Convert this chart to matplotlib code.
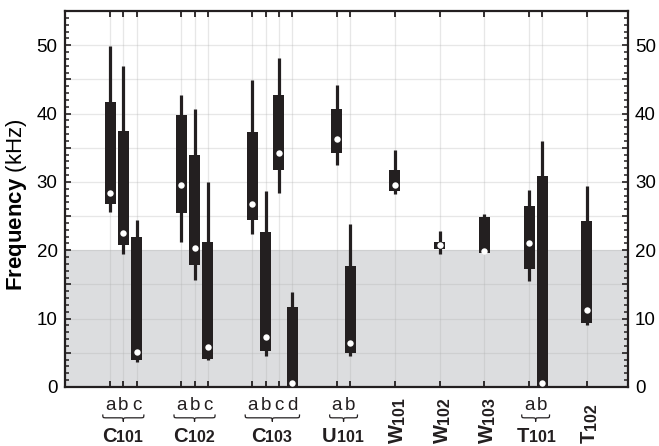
import numpy as np
import matplotlib
matplotlib.use('Agg')
import matplotlib.pyplot as plt
from matplotlib.path import Path
from matplotlib.patches import PathPatch
from matplotlib.ticker import MultipleLocator, FuncFormatter
from matplotlib import transforms

plt.rcParams['font.family'] = ['Liberation Sans', 'DejaVu Sans']
plt.rcParams['mathtext.fontset'] = 'custom'
plt.rcParams['mathtext.rm'] = 'Liberation Sans'
plt.rcParams['mathtext.bf'] = 'Liberation Sans:bold'

# Groups and their sub-series
groups = ['C101', 'C102', 'C103', 'U101', 'W101', 'W102', 'W103', 'T101', 'T102']
sub_letters = [['a', 'b', 'c'], ['a', 'b', 'c'], ['a', 'b', 'c', 'd'], ['a', 'b'],
               [], [], [], ['a', 'b'], []]

# One entry per box (left to right)
whisker_hi = [49.9, 46.9, 24.4, 42.7, 40.6, 30.0, 44.9, 28.7, 48.1, 13.9,
              44.2, 23.9, 34.6, 22.8, 25.3, 28.8, 36.0, 29.4]
box_hi = [41.7, 37.4, 21.9, 39.8, 33.9, 21.2, 37.3, 22.7, 42.7, 11.7,
          40.6, 17.7, 31.8, 21.2, 24.9, 26.5, 30.8, 24.3]
box_lo = [26.7, 20.7, 4.0, 25.5, 17.9, 4.1, 24.5, 5.3, 31.8, 0.0,
          34.3, 5.0, 28.7, 20.2, 19.6, 17.2, 0.0, 9.4]
whisker_lo = [25.6, 19.4, 3.7, 21.2, 15.7, 3.9, 22.4, 4.6, 28.4, 0.0,
              32.5, 4.6, 28.3, 19.5, 19.6, 15.5, 0.0, 9.0]
medians = [28.4, 22.6, 5.1, 29.6, 20.4, 5.85, 26.8, 7.3, 34.2, 0.6,
           36.3, 6.4, 29.6, 20.7, 19.9, 21.1, 0.6, 11.3]

dark = '#231f20'

# x positions: 1 unit inside a group, wider gap between groups
step, gap = 1.0, 3.375
positions, group_pos = [], []
x = 0.0
for gi, letters in enumerate(sub_letters):
    n = max(len(letters), 1)
    if gi > 0:
        x += gap
    xs = [x + i * step for i in range(n)]
    positions.extend(xs)
    group_pos.append(xs)
    x = xs[-1]
positions = np.array(positions)

fig = plt.figure(figsize=(6.59, 4.46), dpi=100)
ax = fig.add_axes([0.0979, 0.1323, 0.8551, 0.8430])

ax.set_xlim(-3.44, 39.1)
ax.set_ylim(0, 55)

# shaded band and grid
ax.axhspan(0, 20, color='#dcdddf', zorder=0, lw=0)
for xp in positions:
    ax.axvline(xp, color='#b0b0b0', alpha=0.3, lw=0.9, zorder=0.5)
for yv in range(5, 55, 5):
    ax.axhline(yv, color='#b0b0b0', alpha=0.3, lw=0.9, zorder=0.5)

# boxes, whiskers and medians
ax.vlines(positions, whisker_lo, whisker_hi, color=dark, lw=2.3, zorder=2)
ax.bar(positions, np.array(box_hi) - np.array(box_lo), bottom=box_lo,
       width=0.83, color=dark, zorder=3, lw=0)
ax.plot(positions, medians, 'o', color='white', ms=4.6, mec='none', zorder=4,
        clip_on=False)

# axes styling
for s in ax.spines.values():
    s.set_linewidth(1.6)
    s.set_color(dark)
ax.set_xticks(positions)
ax.set_xticklabels([])
ax.tick_params(axis='x', direction='in', top=True, bottom=True, length=4.5,
               width=1.3, color=dark)
ax.yaxis.set_major_locator(MultipleLocator(5))
ax.yaxis.set_minor_locator(MultipleLocator(1))
ax.yaxis.set_major_formatter(FuncFormatter(lambda v, p: f'{int(v)}' if v % 10 == 0 else ''))
ax.tick_params(axis='y', which='major', direction='in', left=True, right=True,
               labelleft=True, labelright=True, length=4.5, width=1.2,
               labelsize=13.5, pad=5, color=dark)
ax.tick_params(axis='y', which='minor', direction='in', left=True, right=True,
               length=2.6, width=1.1, color=dark)
ax.set_ylabel(r'$\mathbf{Frequency}$ (kHz)', fontsize=16)
ax.yaxis.set_label_coords(-0.063, 0.484)

# x-axis labels: sub letters, braces, group names
trans = transforms.blended_transform_factory(ax.transData, ax.transAxes)


def draw_brace(x0, x1, yt, ym, yb):
    xm = (x0 + x1) / 2
    q = 0.3
    verts = [(x0, yt), (x0, ym), (x0, ym), (x0 + q, ym),
             (xm - q, ym), (xm, ym), (xm, ym), (xm, yb),
             (xm, ym), (xm, ym), (xm + q, ym),
             (x1 - q, ym), (x1, ym), (x1, ym), (x1, yt)]
    codes = [Path.MOVETO, Path.CURVE4, Path.CURVE4, Path.CURVE4,
             Path.LINETO, Path.CURVE4, Path.CURVE4, Path.CURVE4,
             Path.CURVE4, Path.CURVE4, Path.CURVE4,
             Path.LINETO, Path.CURVE4, Path.CURVE4, Path.CURVE4]
    ax.add_patch(PathPatch(Path(verts, codes), transform=trans, fill=False,
                           lw=0.9, color=dark, clip_on=False))


for name, letters, xs in zip(groups, sub_letters, group_pos):
    center = (xs[0] + xs[-1]) / 2
    head, tail = name[0], name[1:]
    if letters:
        for lt, xp in zip(letters, xs):
            ax.text(xp, -0.061, lt, transform=trans, ha='center', va='baseline',
                    fontsize=13.5, color=dark)
        draw_brace(xs[0] - 0.55, xs[-1] + 0.55, -0.073, -0.082, -0.092)
        t_head = transforms.offset_copy(trans, fig=fig, x=-5, y=0, units='points')
        ax.text(center, -0.145, head, transform=t_head, ha='right', va='baseline',
                fontsize=14.5, fontweight='bold', color=dark)
        ax.text(center, -0.145, tail, transform=t_head, ha='left', va='baseline',
                fontsize=11.5, fontweight='bold', color=dark)
    else:
        t_head = transforms.offset_copy(trans, fig=fig, x=2, y=0, units='points')
        th = ax.text(center, -0.148, head, transform=t_head, rotation=90,
                     ha='center', va='bottom', fontsize=14.5, fontweight='bold',
                     color=dark)
        ax.annotate(tail, xy=(1, 1), xycoords=th, rotation=90, ha='right',
                    va='bottom', fontsize=11.5, fontweight='bold', color=dark)

fig.savefig('out.png', dpi=100)
